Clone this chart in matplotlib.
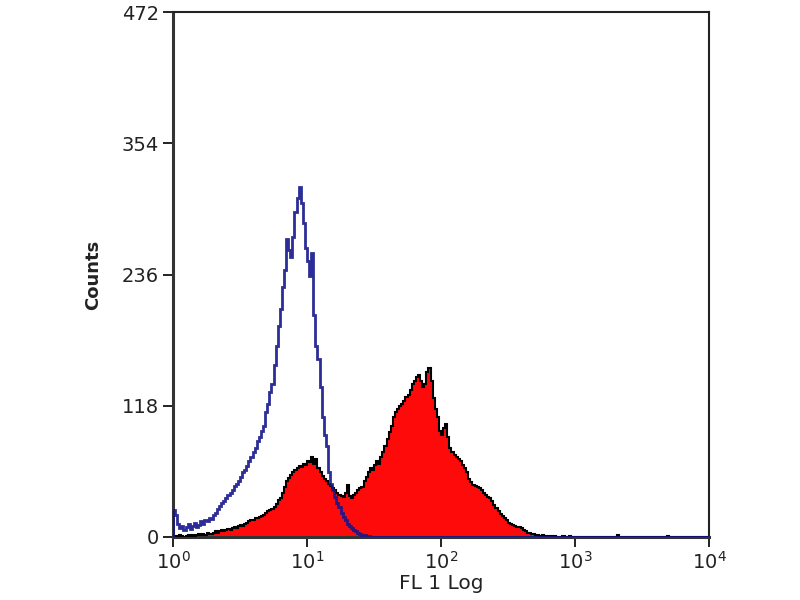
import numpy as np
import matplotlib
matplotlib.use("Agg")
import matplotlib.pyplot as plt
from matplotlib.ticker import FixedLocator, NullLocator

plt.rcParams['font.family'] = ['DejaVu Sans']
plt.rcParams['mathtext.default'] = 'regular'

# 64 channels per decade, 4 decades (10^0 .. 10^4)
channels_per_decade = 64
n_channels = 256

# isotype control (blue outline), channel 0 onwards
blue_counts = [24, 20, 12, 8,
               10, 6, 9, 12, 7, 10, 13, 9, 11, 14, 12, 15,
               14, 17, 16, 20, 22,
               25, 28, 31,
               32, 35, 38, 40, 42, 46, 48,
               50, 54, 58, 60, 64, 68, 72,
               76, 80, 86, 90,
               95, 100, 112, 120,
               130, 138, 155, 172, 190, 205, 225, 240,
               268, 258, 252, 270, 292, 305, 315, 300, 282, 260, 248, 235, 255,
               200, 172, 160, 135, 108, 92, 82, 58, 48, 42, 36, 31, 27,
               22, 18, 15, 12, 10, 8, 6, 5, 4, 3, 2, 2, 1, 1]

# stained sample (red filled), channel 0 onwards
red_counts = [0, 1, 0, 2, 1, 0, 1, 2, 1, 2, 1,
              2, 3, 2, 3, 2, 4, 3, 3, 4, 5,
              4, 5, 6, 5, 6,
              7, 6, 8, 9, 8,
              10, 11, 10, 12, 13,
              14, 15, 15, 17, 17,
              18, 19, 20, 22, 23,
              24, 25, 27, 30, 33,
              35, 40, 45, 50, 53,
              56, 58, 60, 62, 64,
              63, 66, 65, 68, 67,
              72, 66, 70, 62, 58,
              55, 52, 50, 48, 46,
              44, 42, 40, 38, 37,
              36, 40, 47, 37, 35,
              38, 40, 42, 44, 45,
              50, 54, 58, 62, 60,
              65, 68, 66, 72, 76,
              82, 88, 94, 100, 108,
              112, 115, 118, 120, 122,
              126, 128, 132, 138, 140,
              144, 146, 140, 135, 138,
              148, 152, 140, 125, 115,
              108, 95, 92, 98, 102,
              90, 80, 76, 74, 72,
              70, 68, 65, 62, 58,
              52, 49, 47, 46, 45,
              44, 42, 40, 38, 36,
              35, 32, 29, 26, 23,
              21, 19, 17, 15, 13,
              12, 11, 10, 9, 9,
              8, 6, 5, 4, 4,
              3, 3, 2, 2, 1,
              2, 1, 1, 0, 1]

# a few scattered events far out in the tail
red_tail_channels = [182, 186, 189, 212, 236]
red_tail_counts = [1, 1, 1, 2, 1]

y_ticks = [0, 118, 236, 354, 472]
x_ticks = [1, 10, 100, 1000, 10000]
x_tick_labels = ['10$^{0}$', '10$^{1}$', '10$^{2}$', '10$^{3}$', '10$^{4}$']

edges = 10 ** (np.arange(n_channels + 1) / channels_per_decade)

blue = np.zeros(n_channels)
blue[:len(blue_counts)] = blue_counts
red = np.zeros(n_channels)
red[:len(red_counts)] = red_counts
red[red_tail_channels] = red_tail_counts

fig = plt.figure(figsize=(8, 6), dpi=100)
ax = fig.add_axes([0.21625, 0.105, 0.67, 0.875])

ax.stairs(red, edges, fill=True, color='#ff0a0a', zorder=2)
ax.stairs(red, edges, color='black', lw=1.5, zorder=3)
ax.stairs(blue, edges, color='#16168c', lw=2.0, alpha=0.9, zorder=4)

ax.set_xscale('log')
ax.set_xlim(1, 10000)
ax.set_ylim(0, 472)

ax.xaxis.set_major_locator(FixedLocator(x_ticks))
ax.xaxis.set_minor_locator(NullLocator())
ax.set_xticklabels(x_tick_labels)
ax.set_yticks(y_ticks)

ax.tick_params(axis='both', direction='out', length=7, width=1.4,
               labelsize=14, colors='#222222', pad=3)

for side in ['left', 'bottom']:
    ax.spines[side].set_linewidth(2.2)
    ax.spines[side].set_color('#333333')
for side in ['top', 'right']:
    ax.spines[side].set_linewidth(1.5)
    ax.spines[side].set_color('#222222')

ax.set_xlabel('FL 1 Log', fontsize=14.5, color='#222222', labelpad=1)
ax.set_ylabel('Counts', fontsize=13, fontweight='bold', color='#222222', labelpad=14)

fig.savefig('out.png', dpi=100)
